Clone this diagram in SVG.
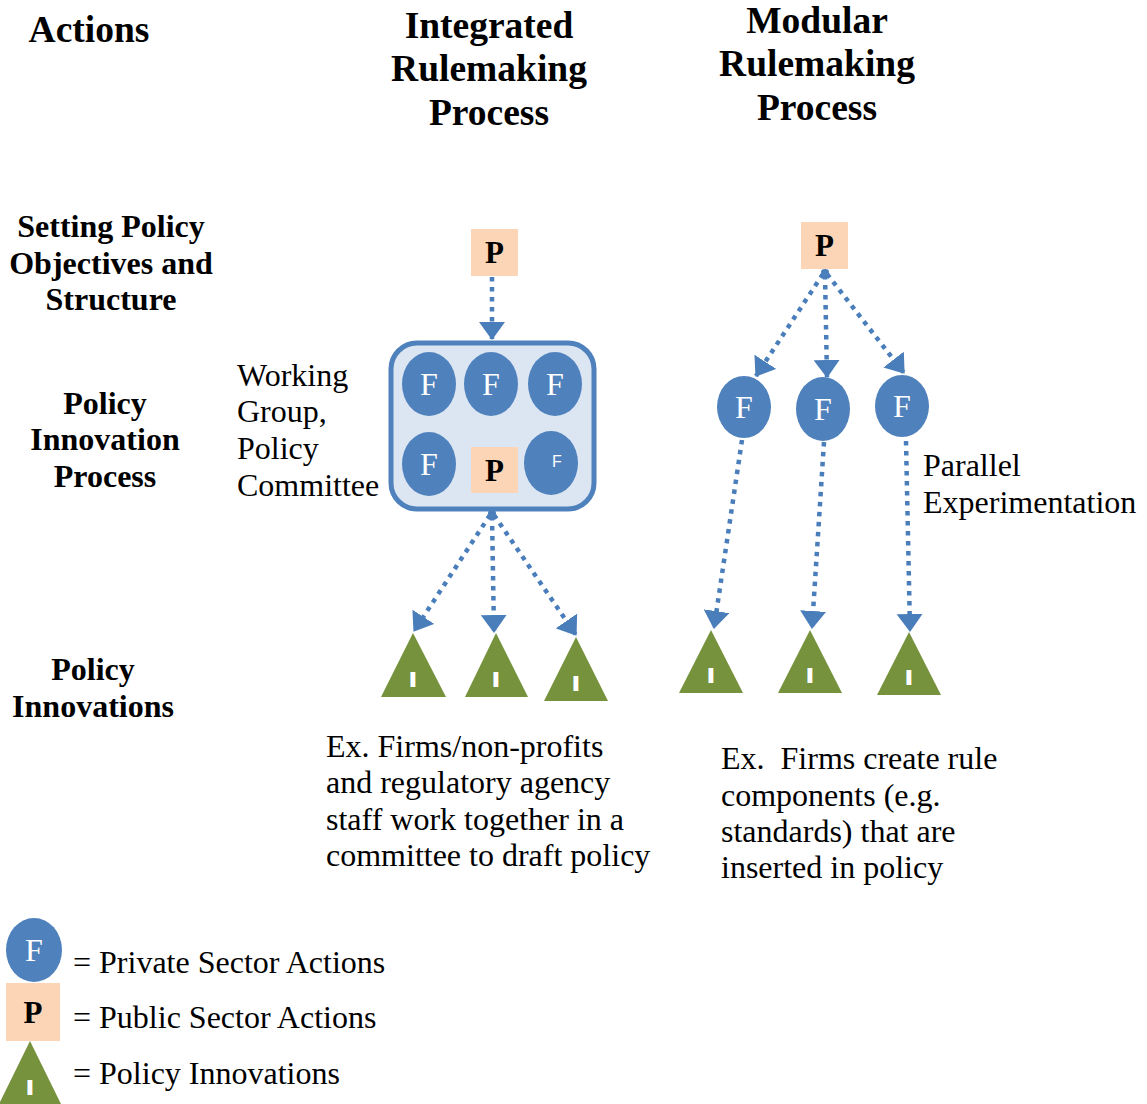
<svg xmlns="http://www.w3.org/2000/svg" width="1147" height="1104" viewBox="0 0 1147 1104">
  <style>
    .title { font-family: "Liberation Serif", "Times New Roman", serif; font-weight: bold; font-size: 37.5px; fill: #000; text-anchor: middle; }
    .row { font-family: "Liberation Serif", "Times New Roman", serif; font-weight: bold; font-size: 32px; fill: #000; text-anchor: middle; }
    .body { font-family: "Liberation Serif", "Times New Roman", serif; font-size: 32px; fill: #000; white-space: pre; }
    .firm { fill: #4F81BD; }
    .ftext { font-family: "Liberation Serif", "Times New Roman", serif; font-size: 32px; fill: #fff; text-anchor: middle; }
    .pub { fill: #FBD5B5; }
    .ptext { font-family: "Liberation Serif", "Times New Roman", serif; font-weight: bold; font-size: 31px; fill: #000; text-anchor: middle; }
    .inno { fill: #76923C; }
    .itext { font-family: "Liberation Sans", Arial, sans-serif; font-weight: bold; font-size: 19px; fill: #fff; stroke: #fff; stroke-width: 2; text-anchor: middle; }
    .link { fill: none; stroke: #4A7EBB; stroke-width: 4.5; stroke-dasharray: 4.5 5.5; marker-end: url(#head); }
  </style>
  <defs>
    <marker id="head" markerUnits="userSpaceOnUse" markerWidth="18" markerHeight="26" viewBox="0 0 18 26" refX="17" refY="13" orient="auto">
      <path d="M0,0 L18,13 L0,26 z" fill="#4A7EBB"/>
    </marker>
  </defs>

  <!-- column and row headings -->
  <g id="headings">
    <text class="title" x="89" y="42">Actions</text>
    <text class="title" x="489" y="38">Integrated</text>
    <text class="title" x="489" y="81">Rulemaking</text>
    <text class="title" x="489" y="125">Process</text>
    <text class="title" x="817" y="33">Modular</text>
    <text class="title" x="817" y="76">Rulemaking</text>
    <text class="title" x="817" y="120">Process</text>

    <text class="row" x="111" y="237">Setting Policy</text>
    <text class="row" x="111" y="274">Objectives and</text>
    <text class="row" x="111" y="310">Structure</text>
    <text class="row" x="105" y="414">Policy</text>
    <text class="row" x="105" y="450">Innovation</text>
    <text class="row" x="105" y="487">Process</text>
    <text class="row" x="93" y="680">Policy</text>
    <text class="row" x="93" y="717">Innovations</text>
  </g>

  <!-- connectors -->
  <g id="connectors">
    <path class="link" d="M492,277 L492,339"/>
    <ellipse cx="492" cy="513" rx="4" ry="3" fill="#4A7EBB"/>
    <path class="link" d="M490,515 L414,631"/>
    <path class="link" d="M492,516 L494,632"/>
    <path class="link" d="M494,515 L576,635"/>
    <ellipse cx="825" cy="272" rx="4" ry="3" fill="#4A7EBB"/>
    <path class="link" d="M823,274 L756,376"/>
    <path class="link" d="M825,275 L827,377"/>
    <path class="link" d="M827,274 L904,373"/>
    <path class="link" d="M742,440 L714,628"/>
    <path class="link" d="M824,442 L812,628"/>
    <path class="link" d="M906,441 L910,631"/>
  </g>

  <!-- integrated process -->
  <g id="int-p">
    <rect class="pub" x="471" y="229" width="47" height="47"/>
    <text class="ptext" x="494.5" y="263">P</text>
  </g>
  <g id="working-group">
    <rect x="391" y="343" width="203" height="166" rx="26" fill="#DCE6F2" stroke="#4F81BD" stroke-width="5"/>
    <ellipse class="firm" cx="429" cy="384" rx="27" ry="32"/>
    <text class="ftext" x="429" y="395">F</text>
    <ellipse class="firm" cx="491" cy="384" rx="27" ry="32"/>
    <text class="ftext" x="491" y="395">F</text>
    <ellipse class="firm" cx="555" cy="384" rx="27" ry="32"/>
    <text class="ftext" x="555" y="395">F</text>
    <ellipse class="firm" cx="429" cy="464" rx="27" ry="32"/>
    <text class="ftext" x="429" y="475">F</text>
    <rect class="pub" x="471" y="447" width="47" height="46"/>
    <text class="ptext" x="494.5" y="481">P</text>
    <ellipse class="firm" cx="551" cy="463" rx="27" ry="32"/>
    <text x="557" y="467" font-family="Liberation Sans, Arial, sans-serif" font-size="16" fill="#fff" text-anchor="middle">F</text>
  </g>
  <g id="wg-label">
    <text class="body" x="237" y="386">Working</text>
    <text class="body" x="237" y="422">Group,</text>
    <text class="body" x="237" y="459">Policy</text>
    <text class="body" x="237" y="496">Committee</text>
  </g>
  <g id="int-i1">
    <path class="inno" d="M413,633 L446,697 L381,697 z"/>
    <text class="itext" x="413" y="686">I</text>
  </g>
  <g id="int-i2">
    <path class="inno" d="M496,633 L528,697 L465,697 z"/>
    <text class="itext" x="496" y="686">I</text>
  </g>
  <g id="int-i3">
    <path class="inno" d="M576,637 L608,701 L544,701 z"/>
    <text class="itext" x="576" y="690">I</text>
  </g>
  <g id="int-example">
    <text class="body" x="326" y="757">Ex. Firms/non-profits</text>
    <text class="body" x="326" y="793">and regulatory agency</text>
    <text class="body" x="326" y="830">staff work together in a</text>
    <text class="body" x="326" y="866">committee to draft policy</text>
  </g>

  <!-- modular process -->
  <g id="mod-p">
    <rect class="pub" x="801" y="222" width="47" height="47"/>
    <text class="ptext" x="824.5" y="256">P</text>
  </g>
  <g id="mod-f1">
    <ellipse class="firm" cx="744" cy="407" rx="27" ry="31"/>
    <text class="ftext" x="744" y="418">F</text>
  </g>
  <g id="mod-f2">
    <ellipse class="firm" cx="823" cy="409" rx="27" ry="32"/>
    <text class="ftext" x="823" y="420">F</text>
  </g>
  <g id="mod-f3">
    <ellipse class="firm" cx="902" cy="406" rx="27" ry="31"/>
    <text class="ftext" x="902" y="417">F</text>
  </g>
  <g id="parallel-label">
    <text class="body" x="923" y="476">Parallel</text>
    <text class="body" x="923" y="513">Experimentation</text>
  </g>
  <g id="mod-i1">
    <path class="inno" d="M711,630 L743,693 L679,693 z"/>
    <text class="itext" x="711" y="682">I</text>
  </g>
  <g id="mod-i2">
    <path class="inno" d="M810,630 L842,693 L778,693 z"/>
    <text class="itext" x="810" y="682">I</text>
  </g>
  <g id="mod-i3">
    <path class="inno" d="M909,632 L941,695 L877,695 z"/>
    <text class="itext" x="909" y="684">I</text>
  </g>
  <g id="mod-example">
    <text class="body" x="721" y="769" xml:space="preserve">Ex.  Firms create rule</text>
    <text class="body" x="721" y="806">components (e.g.</text>
    <text class="body" x="721" y="842">standards) that are</text>
    <text class="body" x="721" y="878">inserted in policy</text>
  </g>

  <!-- legend -->
  <g id="legend">
    <ellipse class="firm" cx="34" cy="950" rx="28" ry="32"/>
    <text class="ftext" x="34" y="961">F</text>
    <text class="body" x="73" y="973">= Private Sector Actions</text>
    <rect class="pub" x="6" y="983" width="54" height="58"/>
    <text class="ptext" x="33" y="1023">P</text>
    <text class="body" x="73" y="1028">= Public Sector Actions</text>
    <path class="inno" d="M30,1041 L61,1104 L-1,1104 z"/>
    <text class="itext" x="30" y="1094">I</text>
    <text class="body" x="73" y="1084">= Policy Innovations</text>
  </g>
</svg>
